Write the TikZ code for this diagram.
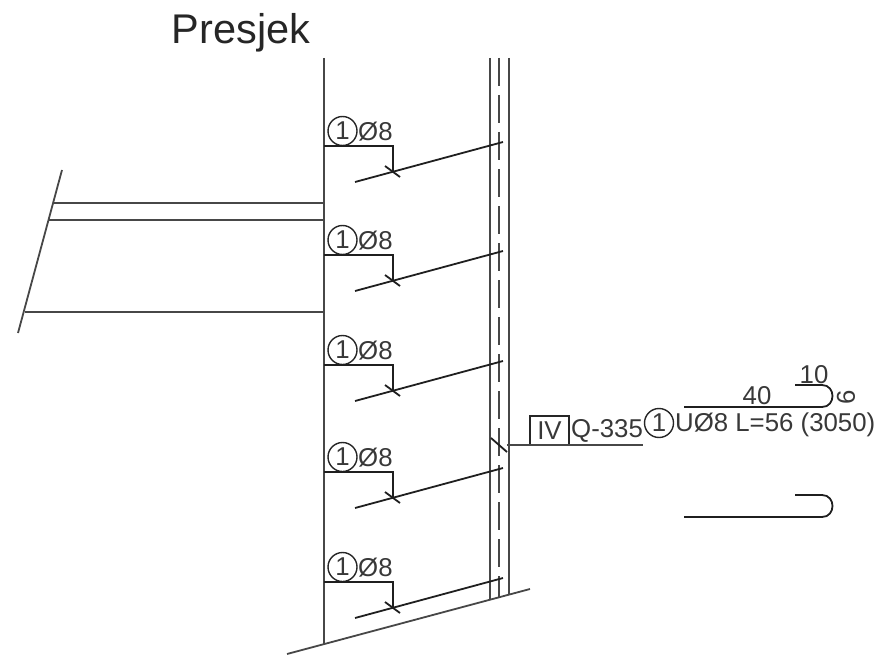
\documentclass[tikz,border=0pt]{standalone}
\usepackage{fontspec}
\setmainfont{Liberation Sans}
\usepackage{tikz}
\begin{document}
\begin{tikzpicture}[x=1pt, y=-1pt,
  wall/.style={draw=black!72, line width=1.8pt},
  rebar/.style={draw=black!88, line width=1.8pt},
  lbl/.style={inner sep=0pt, text=black!78, font=\fontsize{25.8}{25.8}\selectfont},
  num/.style={circle, draw=black!85, line width=1.4pt, minimum size=29pt, inner sep=0pt, text=black!78, font=\fontsize{25.8}{25.8}\selectfont}]
  \useasboundingbox (0,0) rectangle (882,655);
  \node[inner sep=0pt, text=black!85, font=\fontsize{41.5}{41.5}\selectfont] (title) at (241,33) {Presjek};
  % walls
  \coordinate (walltop) at (324,58);
  \coordinate (wallbot) at (324,644);
  \coordinate (innertop) at (490,58);
  \coordinate (innerbot) at (490,600);
  \coordinate (outertop) at (509,58);
  \coordinate (outerbot) at (509,595);
  \coordinate (midtop) at (499,58);
  \coordinate (midbot) at (499,597);
  \draw[wall] (walltop) -- (wallbot);
  \draw[wall] (innertop) -- (innerbot);
  \draw[wall] (outertop) -- (outerbot);
  \draw[wall, line width=2.8pt, dash pattern=on 28pt off 9pt] (midtop) -- (midbot);
  \coordinate (baseleft) at (287,654);
  \coordinate (baseright) at (530,589);
  \draw[wall] (baseleft) -- (baseright);
  % slab
  \coordinate (slabtop) at (62,170);
  \coordinate (slabbot) at (18,333);
  \draw[wall] (slabtop) -- (slabbot);
  \coordinate (slaba) at (53.5,203);
  \coordinate (slabb) at (49,220);
  \coordinate (slabc) at (25,312);
  \draw[wall] (slaba) -- (slaba -| walltop);
  \draw[wall] (slabb) -- (slabb -| walltop);
  \draw[wall] (slabc) -- (slabc -| walltop);
  % anchors
  \foreach \n/\y in {a/146, b/255, c/365, d/472, e/582} {
    \node[num] (num\n) at (342.5,\y-15) {1};
    \node[lbl, right=0pt] (dia\n) at (358,\y-14.5) {Ø8};
    \coordinate (start\n) at (324,\y);
    \coordinate (knee\n) at (393,\y);
    \coordinate (hit\n) at (393,\y+25);
    \coordinate (barl\n) at (355,\y+36);
    \coordinate (barr\n) at (503,\y-4);
    \coordinate (ticka\n) at (385,\y+20);
    \coordinate (tickb\n) at (400,\y+31);
    \draw[rebar] (start\n) -- (knee\n) -- (hit\n);
    \draw[rebar] (barl\n) -- (barr\n);
    \draw[rebar] (ticka\n) -- (tickb\n);
  }
  % callout
  \node[draw=black!85, line width=1.4pt, minimum width=39pt, minimum height=29pt, inner sep=0pt, lbl] (iv) at (549.5,430.5) {IV};
  \node[lbl, anchor=west] (qmark) at (571,431) {Q-335};
  \node[num] (numf) at (659,423) {1};
  \node[lbl, anchor=west] (bartext) at (675,425) {UØ8 L=56 (3050)};
  \coordinate (leadl) at (507,445);
  \coordinate (leadr) at (643,445);
  \coordinate (leadtka) at (491,438);
  \coordinate (leadtkb) at (507,452);
  \draw[wall] (leadl) -- (leadr);
  \draw[rebar] (leadtka) -- (leadtkb);
  % bar shape
  \node[lbl] (len) at (757,396) {40};
  \node[lbl] (hook) at (814,375) {10};
  \node[lbl, rotate=90] (gap) at (846,397) {6};
  \coordinate (shapea) at (684,407);
  \coordinate (shapeb) at (822,407);
  \coordinate (shapec) at (822,385);
  \coordinate (shaped) at (795,385);
  \draw[rebar] (shapea) -- (shapeb) .. controls (836,407) and (836,385) .. (shapec) -- (shaped);
  \coordinate (lowa) at (684,517);
  \coordinate (lowb) at (822,517);
  \coordinate (lowc) at (822,495);
  \coordinate (lowd) at (795,495);
  \draw[rebar] (lowa) -- (lowb) .. controls (836,517) and (836,495) .. (lowc) -- (lowd);
\end{tikzpicture}
\end{document}
